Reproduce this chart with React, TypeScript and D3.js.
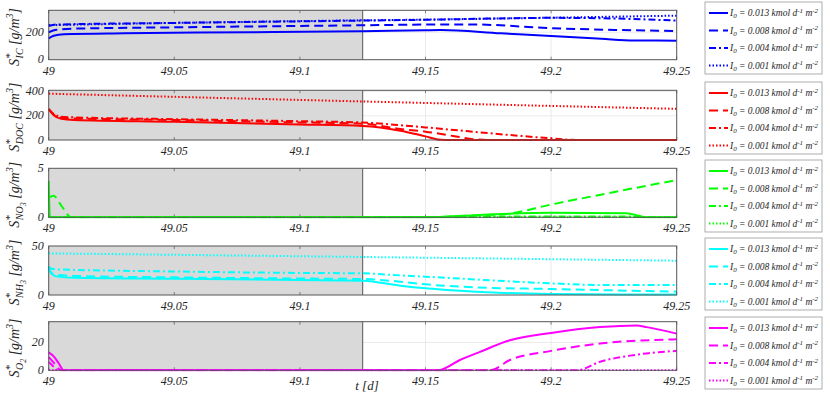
import React, { useEffect, useRef } from 'react';
import * as d3 from 'd3';

type Pt = [number, number];

const xTicks = [49, 49.05, 49.1, 49.15, 49.2, 49.25];
const lightEnd = 49.125;
const loads = ['0.013', '0.008', '0.004', '0.001'];

// S*_IC
const ic013: Pt[] = [[49, 156], [49.002, 175], [49.006, 186], [49.03, 193], [49.08, 200], [49.125, 208], [49.15, 215], [49.156, 216], [49.18, 192], [49.2, 173], [49.22, 152], [49.233, 140], [49.25, 139]];
const ic008: Pt[] = [[49, 200], [49.003, 218], [49.01, 226], [49.05, 236], [49.1, 246], [49.125, 251], [49.15, 256], [49.168, 257], [49.2, 230], [49.25, 209]];
const ic004: Pt[] = [[49, 245], [49.003, 256], [49.05, 268], [49.125, 285], [49.15, 291], [49.2, 305], [49.22, 302], [49.25, 285]];
const ic001: Pt[] = [[49, 252], [49.05, 268], [49.125, 287], [49.15, 292], [49.2, 306], [49.25, 321]];

// S*_DOC
const doc013: Pt[] = [[49, 255], [49.002, 205], [49.005, 175], [49.01, 165], [49.05, 150], [49.1, 128], [49.125, 116], [49.14, 77], [49.15, 30], [49.156, 2], [49.16, 0], [49.25, 0]];
const doc008: Pt[] = [[49, 255], [49.002, 210], [49.005, 185], [49.01, 178], [49.05, 165], [49.1, 145], [49.125, 135], [49.14, 91], [49.15, 69], [49.161, 33], [49.17, 5], [49.175, 0], [49.25, 0]];
const doc004: Pt[] = [[49, 255], [49.002, 215], [49.005, 192], [49.01, 187], [49.05, 172], [49.1, 155], [49.125, 144], [49.14, 122], [49.15, 104], [49.2, 14], [49.21, 0], [49.25, 0]];
const doc001: Pt[] = [[49, 382], [49.125, 318], [49.25, 257]];

// S*_NO3
const no3013: Pt[] = [[49, 3.7], [49.0005, 0], [49.15, 0], [49.17, 0.22], [49.2, 0.47], [49.23, 0.42], [49.235, 0.15], [49.238, 0], [49.25, 0]];
const no3008: Pt[] = [[49, 2.0], [49.002, 2.2], [49.005, 1.2], [49.009, 0], [49.15, 0], [49.17, 0.2], [49.182, 0.34], [49.2, 1.3], [49.25, 3.8]];
const no3004: Pt[] = [[49, 0], [49.16, 0], [49.18, 0.08], [49.23, 0.08], [49.24, 0], [49.25, 0]];
const no3001: Pt[] = [[49, 0], [49.25, 0]];

// S*_NH3
const nh3013: Pt[] = [[49, 29], [49.001, 22], [49.003, 19], [49.01, 17.5], [49.05, 16.5], [49.1, 15.3], [49.125, 14.6], [49.14, 9.5], [49.15, 6.8], [49.17, 3.4], [49.2, 1], [49.25, 0.5]];
const nh3008: Pt[] = [[49, 29], [49.001, 23], [49.003, 20.5], [49.01, 19.5], [49.05, 18], [49.1, 16.8], [49.125, 16.3], [49.14, 13.6], [49.15, 10.9], [49.17, 7.8], [49.2, 6.1], [49.25, 3.4]];
const nh3004: Pt[] = [[49, 29], [49.001, 27], [49.003, 26.2], [49.05, 24], [49.1, 22.5], [49.125, 22.1], [49.14, 20], [49.15, 18.7], [49.2, 11.9], [49.22, 10.2], [49.25, 10.2]];
const nh3001: Pt[] = [[49, 42.5], [49.125, 38.8], [49.25, 35]];

// S*_O2
const o2013: Pt[] = [[49, 12.9], [49.002, 10], [49.004, 5], [49.006, 0], [49.155, 0], [49.1637, 7.4], [49.1717, 13.3], [49.1836, 21.6], [49.2, 26.9], [49.2195, 31.1], [49.234, 32.3], [49.238, 31.1], [49.25, 26.4]];
const o2008: Pt[] = [[49, 9.5], [49.002, 5.5], [49.004, 1], [49.005, 0], [49.1757, 0], [49.1836, 7.4], [49.2, 14], [49.2195, 19.3], [49.25, 22.3]];
const o2004: Pt[] = [[49, 6], [49.002, 2.5], [49.0035, 0], [49.2102, 0], [49.2195, 6.2], [49.2327, 10.9], [49.25, 14]];
const o2001: Pt[] = [[49, 0], [49.25, 0]];

const dashes = [null, '9,5', '7,3,2,3', '1.5,2'];

const App = () => {
  const ref = useRef<SVGSVGElement>(null);

  useEffect(() => {
    const svg = d3.select(ref.current);
    svg.selectAll('*').remove();
    const font = '"Liberation Serif", "Times New Roman", serif';

    const x = d3.scaleLinear().domain([49, 49.25]).range([48.7, 676.7]);

    const panels = [
      { sub: 'IC', sub2: '', color: '#0000ff', yMax: 360, yTicks: [0, 200], top: 10.3, bottom: 59.7, series: [ic013, ic008, ic004, ic001], legendTop: 2 },
      { sub: 'DOC', sub2: '', color: '#ff0000', yMax: 410, yTicks: [0, 200, 400], top: 90.3, bottom: 140, series: [doc013, doc008, doc004, doc001], legendTop: 82 },
      { sub: 'NO', sub2: '3', color: '#00ff00', yMax: 5, yTicks: [0, 5], top: 168.3, bottom: 217.3, series: [no3013, no3008, no3004, no3001], legendTop: 160 },
      { sub: 'NH', sub2: '3', color: '#00ffff', yMax: 50, yTicks: [0, 50], top: 246, bottom: 295, series: [nh3013, nh3008, nh3004, nh3001], legendTop: 238 },
      { sub: 'O', sub2: '2', color: '#ff00ff', yMax: 35, yTicks: [0, 20], top: 321.7, bottom: 370.3, series: [o2013, o2008, o2004, o2001], legendTop: 317 },
    ];

    panels.forEach((p) => {
      const y = d3.scaleLinear().domain([0, p.yMax]).range([p.bottom, p.top]);
      const g = svg.append('g');
      const [x0, x1] = x.range();

      g.append('rect').attr('x', x0).attr('y', p.top).attr('width', x1 - x0).attr('height', p.bottom - p.top).attr('fill', '#fff');

      // grid
      g.selectAll('.gx').data(xTicks.slice(1, -1)).enter().append('line')
        .attr('x1', (d) => x(d)).attr('x2', (d) => x(d)).attr('y1', p.top).attr('y2', p.bottom)
        .attr('stroke', '#e3e3e3').attr('stroke-width', 0.7);
      g.selectAll('.gy').data(p.yTicks.filter((t) => t > 0 && t < p.yMax)).enter().append('line')
        .attr('x1', x0).attr('x2', x1).attr('y1', (d) => y(d)).attr('y2', (d) => y(d))
        .attr('stroke', '#e3e3e3').attr('stroke-width', 0.7);

      // light period shading
      g.append('rect').attr('x', x(49)).attr('y', p.top).attr('width', x(lightEnd) - x(49)).attr('height', p.bottom - p.top)
        .attr('fill', '#d9d9d9');
      g.append('line').attr('x1', x(lightEnd)).attr('x2', x(lightEnd)).attr('y1', p.top).attr('y2', p.bottom)
        .attr('stroke', '#555').attr('stroke-width', 1);

      // ticks inward
      g.selectAll('.tx').data(xTicks).enter().append('line')
        .attr('x1', (d) => x(d)).attr('x2', (d) => x(d)).attr('y1', p.bottom).attr('y2', p.bottom - 3)
        .attr('stroke', '#555').attr('stroke-width', 0.7);
      g.selectAll('.tx2').data(xTicks).enter().append('line')
        .attr('x1', (d) => x(d)).attr('x2', (d) => x(d)).attr('y1', p.top).attr('y2', p.top + 3)
        .attr('stroke', '#555').attr('stroke-width', 0.7);

      const line = d3.line<Pt>().x((d) => x(d[0])).y((d) => y(d[1])).curve(d3.curveMonotoneX);
      const clipId = `clip-${p.sub}`;
      g.append('clipPath').attr('id', clipId).append('rect')
        .attr('x', x0 - 1).attr('y', p.top - 1).attr('width', x1 - x0 + 2).attr('height', p.bottom - p.top + 2);
      p.series.forEach((s, i) => {
        const path = g.append('path').datum(s).attr('d', line).attr('fill', 'none')
          .attr('stroke', p.color).attr('stroke-width', 2).attr('clip-path', `url(#${clipId})`);
        if (dashes[i]) path.attr('stroke-dasharray', dashes[i] as string);
      });

      g.append('rect').attr('x', x0).attr('y', p.top).attr('width', x1 - x0).attr('height', p.bottom - p.top)
        .attr('fill', 'none').attr('stroke', '#555').attr('stroke-width', 1);

      // tick labels
      g.selectAll('.xl').data(xTicks).enter().append('text')
        .attr('x', (d) => x(d)).attr('y', p.bottom + 15)
        .attr('text-anchor', 'middle').attr('font-family', font).attr('font-style', 'italic').attr('font-size', 12)
        .attr('fill', '#262626')
        .text((d) => d3.format('')(+d.toFixed(2)));
      g.selectAll('.yl').data(p.yTicks).enter().append('text')
        .attr('x', x0 - 5).attr('y', (d) => y(d) + 3.5)
        .attr('text-anchor', 'end').attr('font-family', font).attr('font-style', 'italic').attr('font-size', 12)
        .attr('fill', '#262626')
        .text((d) => d);

      // y label
      const cy = (p.top + p.bottom) / 2;
      const lab = g.append('text').attr('transform', `translate(19,${cy + 2}) rotate(-90)`)
        .attr('text-anchor', 'middle').attr('font-family', font).attr('font-style', 'italic').attr('font-size', 14)
        .attr('fill', '#262626');
      lab.append('tspan').text('S');
      lab.append('tspan').attr('dy', -6).attr('font-size', 11).text('*');
      lab.append('tspan').attr('dx', -5).attr('dy', 10).attr('font-size', 10).text(p.sub);
      let back = -4;
      if (p.sub2) {
        lab.append('tspan').attr('dy', 3).attr('font-size', 8).text(p.sub2);
        back = -7;
      }
      lab.append('tspan').attr('dy', back).text(p.sub2 ? '  [g/m' : ' [g/m');
      lab.append('tspan').attr('dy', -6).attr('font-size', 10).text('3');
      lab.append('tspan').attr('dy', 6).text(']');

      // legend
      const lg = svg.append('g');
      const lx = 705;
      const lw = 117;
      const lh = 72;
      lg.append('rect').attr('x', lx).attr('y', p.legendTop).attr('width', lw).attr('height', lh)
        .attr('fill', '#fff').attr('stroke', '#999').attr('stroke-width', 0.8);
      loads.forEach((v, i) => {
        const ly = p.legendTop + 11 + i * 17.5;
        const l = lg.append('line').attr('x1', lx + 4).attr('x2', lx + 23).attr('y1', ly).attr('y2', ly)
          .attr('stroke', p.color).attr('stroke-width', 2);
        if (dashes[i]) l.attr('stroke-dasharray', dashes[i] as string);
        const t = lg.append('text').attr('x', lx + 25).attr('y', ly + 3)
          .attr('font-family', font).attr('font-style', 'italic').attr('font-size', 9.5).attr('fill', '#262626');
        t.append('tspan').text('I');
        t.append('tspan').attr('dy', 2).attr('font-size', 7).text('0');
        t.append('tspan').attr('dy', -2).text(` = ${v} kmol d`);
        t.append('tspan').attr('dy', -3.5).attr('font-size', 7).text('-1');
        t.append('tspan').attr('dy', 3.5).text(' m');
        t.append('tspan').attr('dy', -3.5).attr('font-size', 7).text('-2');
      });
    });

    svg.append('text').attr('x', 367).attr('y', 390).attr('text-anchor', 'middle')
      .attr('font-family', font).attr('font-style', 'italic').attr('font-size', 13).attr('fill', '#262626')
      .text('t [d]');
  }, []);

  return <svg ref={ref} width={830} height={395} style={{ position: 'absolute', left: 0, top: 0, background: '#fff' }} />;
};

export default App;
